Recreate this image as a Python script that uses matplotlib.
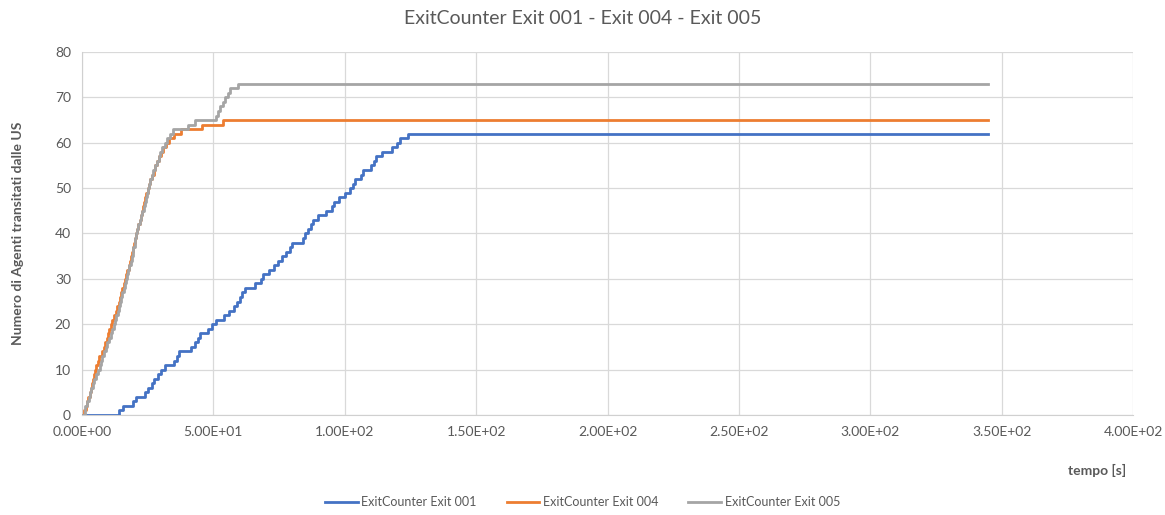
import matplotlib
matplotlib.use("Agg")
from matplotlib import pyplot as plt

# arrival times [s] for each agent counted at the exit (count k reached at times[k-1])
exit001_times = [14.0, 15.5, 19.5, 20.5, 24.0, 25.0, 26.5, 27.5, 29.0, 30.0,
                 31.5, 35.0, 36.0, 37.0, 41.5, 43.0, 44.0, 45.0, 48.0, 49.5,
                 51.0, 54.0, 56.0, 58.0, 59.0, 60.0, 61.0, 62.0, 66.0, 68.0,
                 69.0, 71.0, 73.0, 74.5, 76.0, 77.5, 79.0, 80.0, 84.0, 85.0,
                 86.0, 87.0, 88.0, 90.0, 93.0, 95.0, 96.0, 98.0, 100.0, 102.0,
                 103.0, 104.0, 106.0, 107.0, 110.0, 111.0, 112.0, 114.0, 118.0, 120.0,
                 121.0, 124.0]
exit004_times = [0.9, 1.4, 2.0, 2.3, 2.9, 3.3, 3.8, 4.2, 4.6, 5.1,
                 5.5, 5.9, 6.3, 7.6, 8.2, 8.9, 9.4, 9.9, 10.4, 11.0,
                 11.6, 12.3, 12.9, 13.4, 13.9, 14.4, 14.9, 15.3, 15.8, 16.4,
                 16.9, 17.3, 17.8, 18.4, 18.7, 19.1, 19.5, 19.8, 20.2, 20.5,
                 20.9, 21.4, 22.0, 22.4, 22.9, 23.3, 23.7, 24.1, 24.5, 25.0,
                 25.5, 26.0, 26.6, 27.3, 27.9, 28.7, 29.4, 30.0, 30.8, 32.0,
                 33.3, 35.0, 37.5, 45.5, 53.8]
exit005_times = [1.0, 1.3, 1.8, 2.5, 3.0, 3.6, 4.0, 4.6, 5.3, 6.0,
                 6.8, 7.3, 7.8, 8.5, 9.0, 9.6, 10.3, 10.9, 11.5, 12.2,
                 12.7, 13.1, 13.6, 14.0, 14.5, 14.9, 15.4, 15.8, 16.3, 16.7,
                 17.2, 17.6, 18.0, 18.5, 18.9, 19.3, 19.6, 20.0, 20.3, 20.6,
                 21.0, 21.5, 22.0, 22.6, 23.0, 23.5, 23.8, 24.2, 24.6, 25.0,
                 25.4, 25.9, 26.5, 27.2, 27.8, 28.5, 29.2, 29.8, 30.5, 31.5,
                 32.5, 33.5, 34.5, 40.5, 43.0, 51.0, 51.8, 52.5, 53.5, 54.5,
                 55.5, 56.3, 59.5]
t_end = 345.0

labels = ["ExitCounter Exit 001", "ExitCounter Exit 004", "ExitCounter Exit 005"]
colors = ["#4472C4", "#ED7D31", "#A5A5A5"]
xticks = [0, 50, 100, 150, 200, 250, 300, 350, 400]
yticks = [0, 10, 20, 30, 40, 50, 60, 70, 80]

txt = "#595959"
plt.rcParams['font.family'] = ['Lato', 'DejaVu Sans']

fig = plt.figure(figsize=(11.65, 5.15), dpi=100)
ax = fig.add_axes([82/1165, 1-415/515, (1133-82)/1165, (415-52)/515])

for times, lab, col in zip([exit001_times, exit004_times, exit005_times], labels, colors):
    xs = [0.0] + times + [t_end]
    ys = [0] + list(range(1, len(times)+1)) + [len(times)]
    ax.plot(xs, ys, drawstyle='steps-post', color=col, lw=2, label=lab, zorder=3)

ax.set_xlim(0, 400)
ax.set_ylim(0, 80)
ax.set_xticks(xticks)
ax.set_yticks(yticks)
ax.set_xticklabels([f"{v:.2E}" for v in xticks])
ax.grid(True, color="#d9d9d9", lw=0.9)
ax.set_axisbelow(True)
for s in ['top', 'right']:
    ax.spines[s].set_visible(False)
for s in ['left', 'bottom']:
    ax.spines[s].set_color("#d0d0d0")
ax.tick_params(axis='both', length=0, labelsize=10, colors=txt, pad=8)

fig.text(0.5, 1-18/515, "ExitCounter Exit 001 - Exit 004 - Exit 005",
         ha='center', va='center', fontsize=14, color=txt)
fig.text(18/1165, 1-233/515, "Numero di Agenti transitati dalle US", rotation=90,
         ha='center', va='center', fontsize=10, fontweight='bold', color=txt)
fig.text(1097/1165, 1-470/515, "tempo [s]", ha='center', va='center',
         fontsize=10, fontweight='bold', color=txt)

leg = fig.legend(loc='center', bbox_to_anchor=(0.5, 1-502/515), ncol=3, frameon=False,
                 fontsize=9, handlelength=2.6, columnspacing=2.4, handletextpad=0.3)
for t in leg.get_texts():
    t.set_color(txt)

fig.savefig("out.png", dpi=100)
